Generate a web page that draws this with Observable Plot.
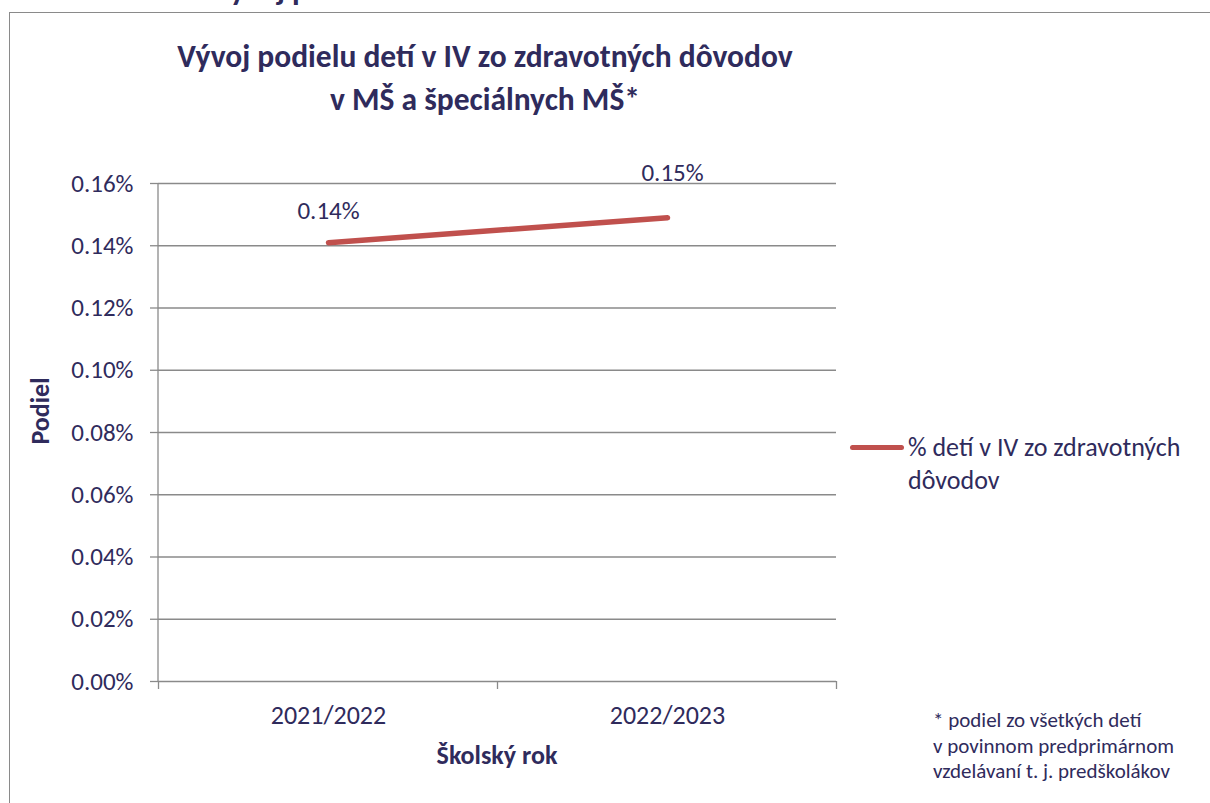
<!DOCTYPE html>
<html>
<head>
<meta charset="utf-8">
<script src="https://cdn.jsdelivr.net/npm/d3@7"></script>
<script src="https://cdn.jsdelivr.net/npm/@observablehq/plot@0.6"></script>
<style>
  html, body { margin: 0; padding: 0; background: #fff; }
  #wrap { position: relative; width: 1210px; height: 803px; overflow: hidden; font-family: Carlito, Calibri, Lato, sans-serif; color: #2f2b5c; }
  #wrap svg { position: absolute; left: 0; top: 0; }
  .abs { position: absolute; white-space: nowrap; }
</style>
</head>
<body>
<div id="wrap">
  <div class="abs" style="left:9px;top:12px;width:1201px;height:791px;border-left:1.5px solid #8a8a8a;border-top:1.5px solid #8a8a8a;"></div>
  <div class="abs" id="cut" style="left:212px;top:-29px;font-weight:bold;font-size:31.5px;line-height:36px;"></div>
  <div class="abs" id="title" style="left:130px;top:35px;width:710px;text-align:center;font-weight:bold;font-size:31.5px;line-height:43px;"></div>
  <div class="abs" id="ytitle" style="left:40px;top:411px;font-weight:bold;font-size:26px;transform:translate(-50%,-50%) rotate(-90deg);"></div>
  <div class="abs" id="xtitle" style="left:497px;top:755px;font-weight:bold;font-size:26px;transform:translate(-50%,-50%);"></div>
  <div class="abs" id="legend" style="left:850px;top:431px;font-size:26px;line-height:33px;">
    <span style="position:absolute;left:0;top:14px;width:54px;height:5px;border-radius:3px;background:#c0504d;"></span>
    <div id="legtext" style="margin-left:58px;white-space:normal;width:295px;"></div>
  </div>
  <div class="abs" id="note" style="left:933px;top:708px;font-size:21px;line-height:25.5px;"></div>
</div>
<script>
const years = ["2021/2022", "2022/2023"];
const shares = [0.00141, 0.00149];
const yTicks = [0, 0.0002, 0.0004, 0.0006, 0.0008, 0.0010, 0.0012, 0.0014, 0.0016];
const titleLines = ["Vývoj podielu detí v IV zo zdravotných dôvodov", "v MŠ a špeciálnych MŠ*"];
const cutText = "Vývoj podielu detí";
const yLabel = "Podiel";
const xLabel = "Školský rok";
const seriesName = "% detí v IV zo zdravotných dôvodov";
const noteLines = ["* podiel zo všetkých detí", "v povinnom predprimárnom", "vzdelávaní t. j. predškolákov"];

const TEXT = "#2f2b5c";
const GRID = "#8a8a8a";
const RED = "#c0504d";
const FONT = "Carlito, Calibri, Lato, sans-serif";

const data = years.map((y, i) => ({year: y, value: shares[i]}));
const pct = d3.format(".2%");

function decor(index, scales, values, dims) {
  const x0 = dims.marginLeft;
  const yb = dims.height - dims.marginBottom;
  const yt = dims.marginTop;
  const step = scales.x(years[1]) - scales.x(years[0]);
  const bounds = years.map(y => scales.x(y) - step / 2).concat([scales.x(years[years.length - 1]) + step / 2]);
  const g = d3.create("svg:g").attr("stroke", GRID).attr("stroke-width", 1.3);
  g.append("line").attr("x1", x0).attr("x2", x0).attr("y1", yt).attr("y2", yb);
  for (const b of bounds) g.append("line").attr("x1", b).attr("x2", b).attr("y1", yb).attr("y2", yb + 8);
  return g.node();
}

const chart = Plot.plot({
  width: 1210, height: 803,
  marginLeft: 158, marginRight: 374, marginTop: 183, marginBottom: 122,
  style: {fontFamily: FONT, fontSize: "26px", color: TEXT, background: "transparent", overflow: "visible"},
  x: {type: "point", domain: years, padding: 0.5, label: null},
  y: {domain: [0, 0.0016], label: null},
  marks: [
    Plot.gridY(yTicks, {stroke: GRID, strokeOpacity: 1, strokeWidth: 1.3}),
    Plot.axisY(yTicks, {tickSize: 8, tickPadding: 17, stroke: GRID, strokeWidth: 1.3, fontSize: 25, tickFormat: pct, label: null}),
    Plot.axisX({tickSize: 0, tickPadding: 24, fontSize: 26, label: null}),
    decor,
    Plot.line(data, {x: "year", y: "value", stroke: RED, strokeWidth: 5.5, strokeLinecap: "round"}),
    Plot.text(data.slice(0, 1), {x: "year", y: "value", text: d => pct(d.value), fontSize: 25, fill: TEXT, dy: -32}),
    Plot.text(data.slice(1), {x: "year", y: "value", text: d => pct(d.value), fontSize: 25, fill: TEXT, dx: 5, dy: -45})
  ]
});
document.getElementById("wrap").insertBefore(chart, document.getElementById("wrap").firstChild.nextSibling);

document.getElementById("cut").textContent = cutText;
document.getElementById("title").innerHTML = titleLines.join("<br>");
document.getElementById("ytitle").textContent = yLabel;
document.getElementById("xtitle").textContent = xLabel;
document.getElementById("legtext").textContent = seriesName;
document.getElementById("note").innerHTML = noteLines.join("<br>");
</script>
</body>
</html>
